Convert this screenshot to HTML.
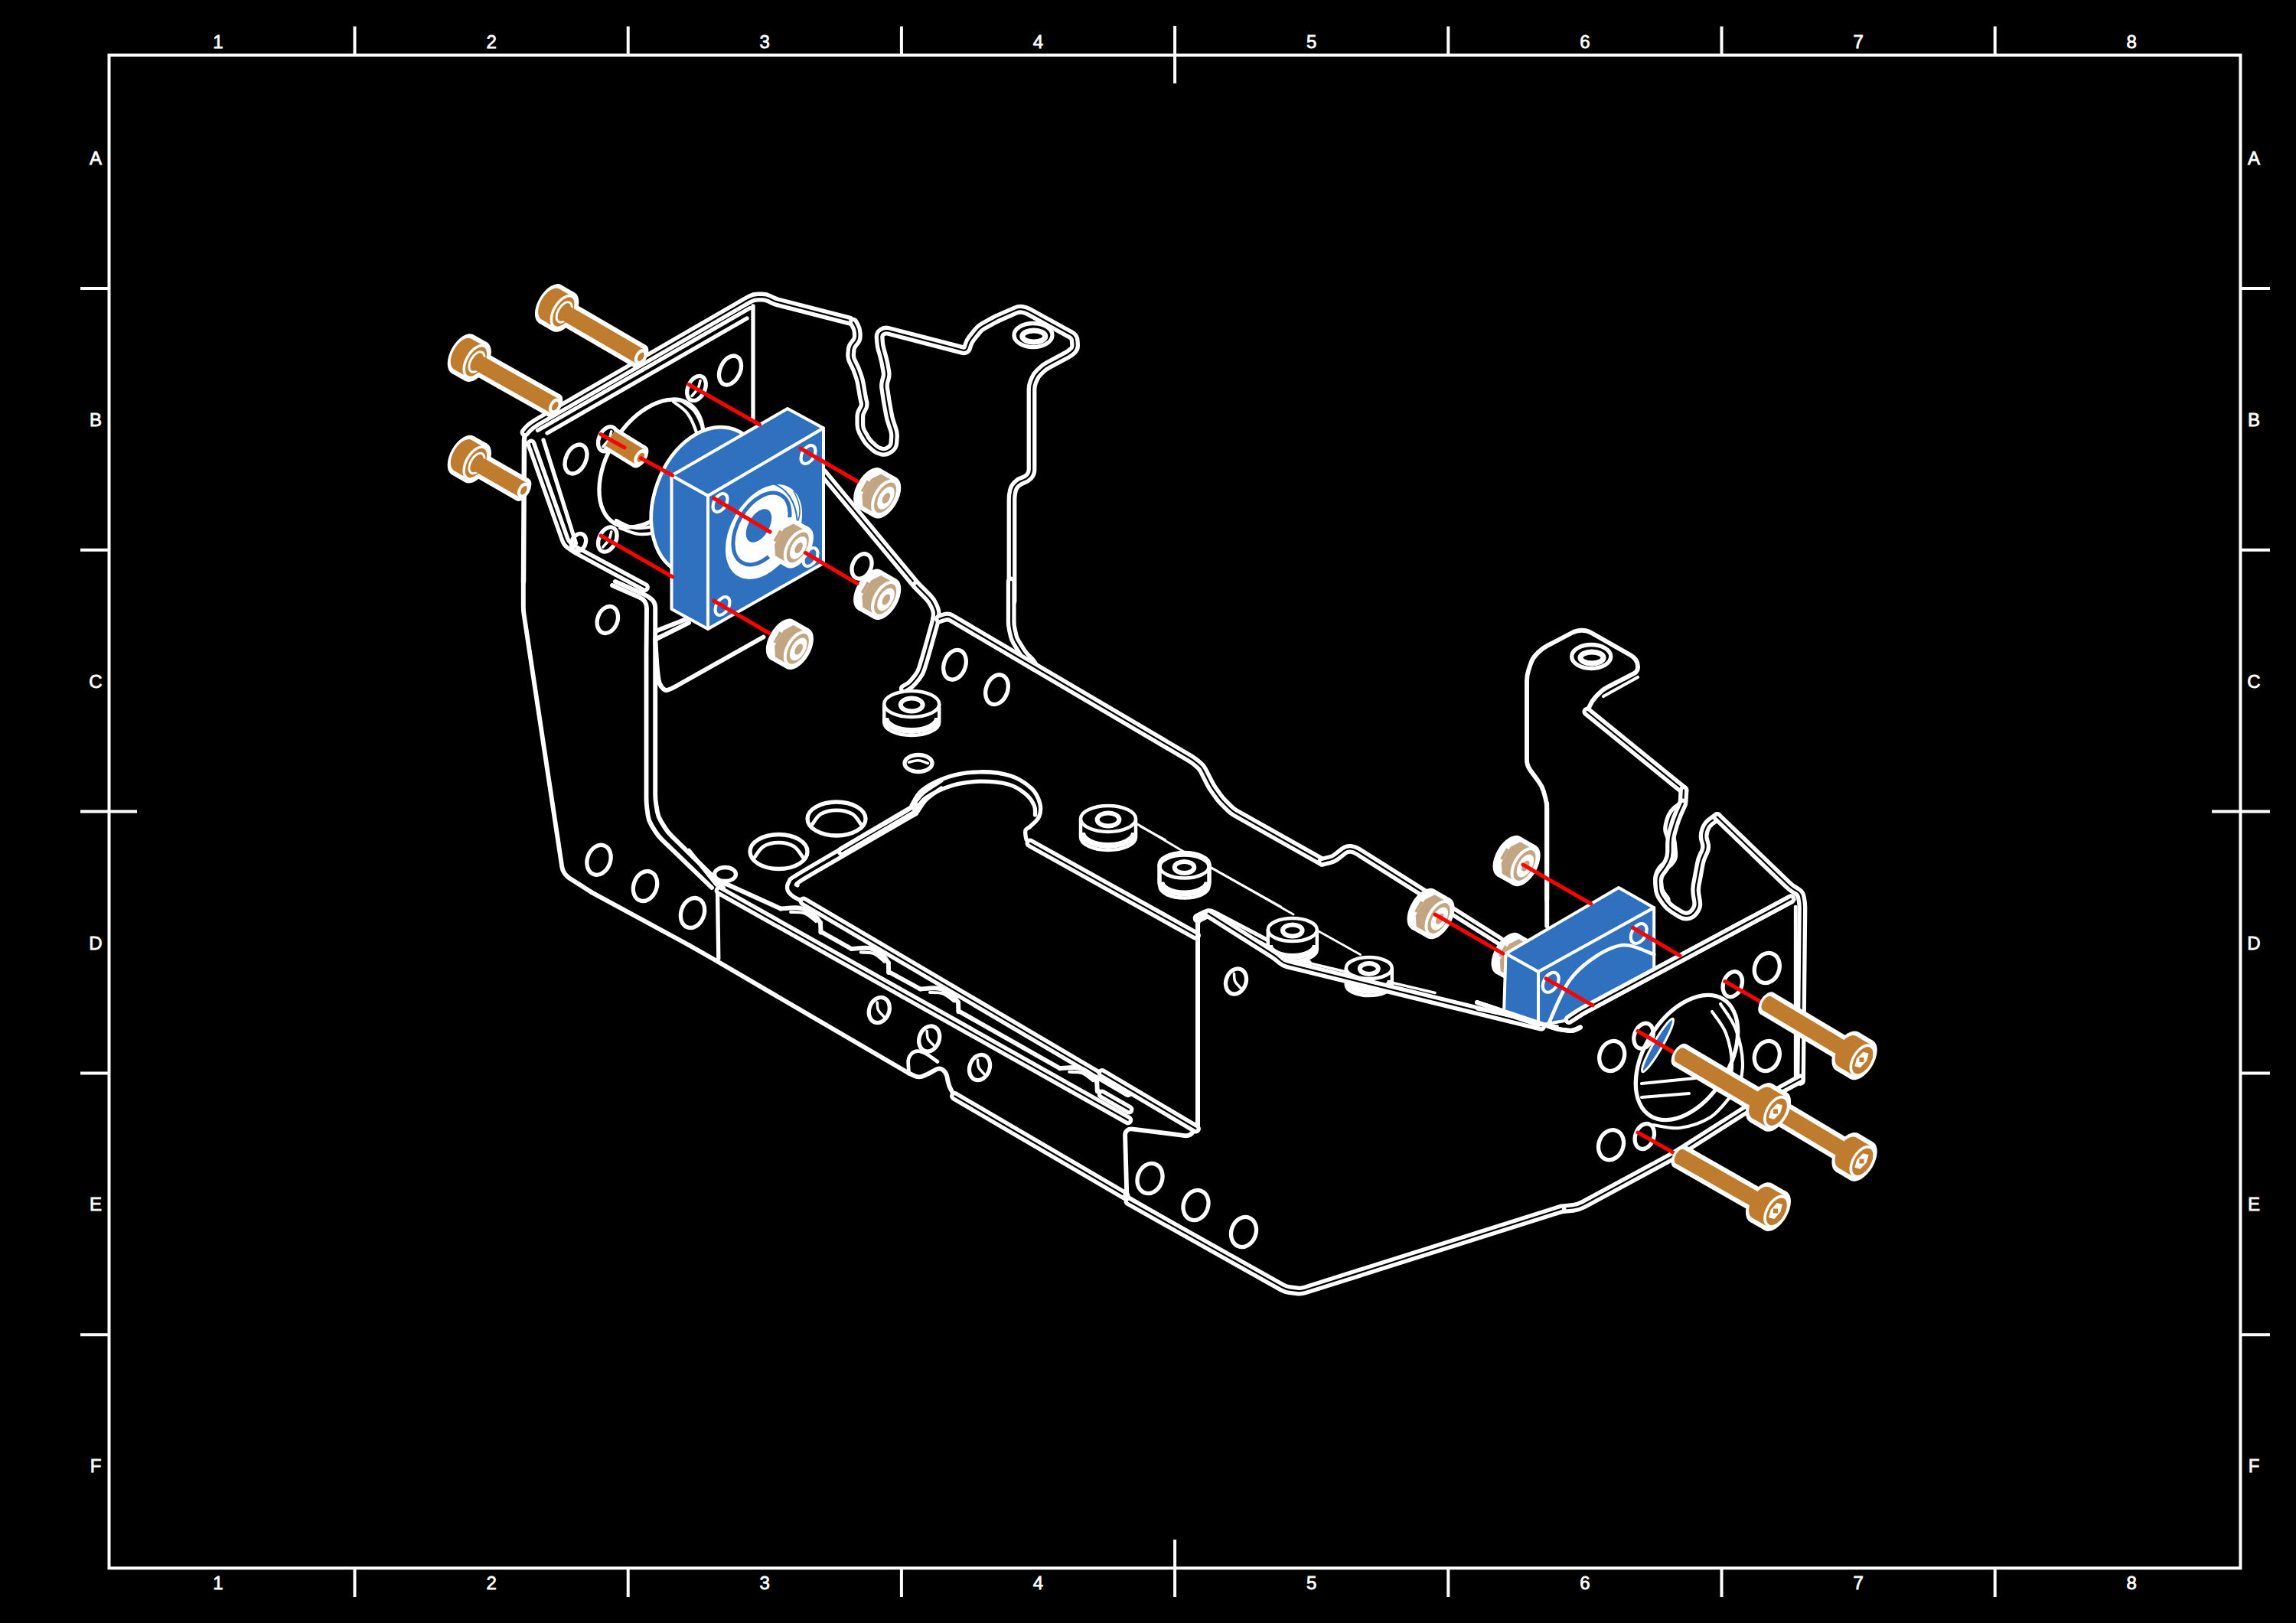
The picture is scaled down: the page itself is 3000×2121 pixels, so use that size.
<!DOCTYPE html>
<html><head><meta charset="utf-8"><style>
html,body{margin:0;padding:0;background:#000;width:3000px;height:2121px;overflow:hidden}
svg{display:block}
</style></head><body>
<svg width="3000" height="2121" viewBox="0 0 3000 2121" xmlns="http://www.w3.org/2000/svg">
<rect width="3000" height="2121" fill="#000"/>
<g stroke="#fff" stroke-width="4"><rect x="142.5" y="72" width="2784.9" height="1977.3000000000002" fill="none" stroke="#fff" stroke-width="4"/><line x1="463.5" y1="34.5" x2="463.5" y2="72" /><line x1="463.5" y1="2049.3" x2="463.5" y2="2087" /><line x1="820.6999999999999" y1="34.5" x2="820.6999999999999" y2="72" /><line x1="820.6999999999999" y1="2049.3" x2="820.6999999999999" y2="2087" /><line x1="1177.8999999999999" y1="34.5" x2="1177.8999999999999" y2="72" /><line x1="1177.8999999999999" y1="2049.3" x2="1177.8999999999999" y2="2087" /><line x1="1535.1" y1="34" x2="1535.1" y2="109" /><line x1="1535.1" y1="2012" x2="1535.1" y2="2087" /><line x1="1892.3" y1="34.5" x2="1892.3" y2="72" /><line x1="1892.3" y1="2049.3" x2="1892.3" y2="2087" /><line x1="2249.5" y1="34.5" x2="2249.5" y2="72" /><line x1="2249.5" y1="2049.3" x2="2249.5" y2="2087" /><line x1="2606.7000000000003" y1="34.5" x2="2606.7000000000003" y2="72" /><line x1="2606.7000000000003" y1="2049.3" x2="2606.7000000000003" y2="2087" /><line x1="105" y1="377.0" x2="142.5" y2="377.0" /><line x1="2927.4" y1="377.0" x2="2966" y2="377.0" /><line x1="105" y1="718.8000000000001" x2="142.5" y2="718.8000000000001" /><line x1="2927.4" y1="718.8000000000001" x2="2966" y2="718.8000000000001" /><line x1="105" y1="1060.6000000000001" x2="179" y2="1060.6000000000001" /><line x1="2890" y1="1060.6000000000001" x2="2966" y2="1060.6000000000001" /><line x1="105" y1="1402.4" x2="142.5" y2="1402.4" /><line x1="2927.4" y1="1402.4" x2="2966" y2="1402.4" /><line x1="105" y1="1744.2" x2="142.5" y2="1744.2" /><line x1="2927.4" y1="1744.2" x2="2966" y2="1744.2" /></g><g fill="#fff" stroke="#fff" stroke-width="0.8" font-family="Liberation Sans, sans-serif" font-size="24" text-anchor="middle"><text x="284.9" y="63">1</text><text x="284.9" y="2077">1</text><text x="642.1" y="63">2</text><text x="642.1" y="2077">2</text><text x="999.3" y="63">3</text><text x="999.3" y="2077">3</text><text x="1356.5" y="63">4</text><text x="1356.5" y="2077">4</text><text x="1713.7" y="63">5</text><text x="1713.7" y="2077">5</text><text x="2070.9" y="63">6</text><text x="2070.9" y="2077">6</text><text x="2428.1" y="63">7</text><text x="2428.1" y="2077">7</text><text x="2785.3" y="63">8</text><text x="2785.3" y="2077">8</text><text x="125" y="215.1">A</text><text x="2945" y="215.1">A</text><text x="125" y="556.9">B</text><text x="2945" y="556.9">B</text><text x="125" y="898.7">C</text><text x="2945" y="898.7">C</text><text x="125" y="1240.5">D</text><text x="2945" y="1240.5">D</text><text x="125" y="1582.3">E</text><text x="2945" y="1582.3">E</text><text x="125" y="1924.1">F</text><text x="2945" y="1924.1">F</text></g>





















<!--DRAWING-->
<style>.b,.k,.w{fill:none;stroke-linejoin:round;stroke-linecap:round}.b,.w{stroke:#fff}.k{stroke:#000}</style>
<path class="w" d="M684.0,760.0 L685.0,574.9 Q685.0,570.0 687.0,565.5 L689.0,561.0" stroke-width="6.49"/>
<path class="b" d="M686.0,565.0 L688.5,562.0 Q691.0,559.0 694.2,556.7 L695.9,555.4 Q700.0,552.5 704.3,550.0 L969.7,396.5 Q974.0,394.0 978.4,391.6 L980.6,390.4 Q985.0,388.0 990.0,388.0 L996.0,388.0 Q1001.0,388.0 1005.4,390.3 L1008.1,391.7 Q1012.5,394.0 1017.3,395.2 L1110.0,419.0" stroke-width="12.80"/>
<path class="k" d="M686.0,565.0 L688.5,562.0 Q691.0,559.0 694.2,556.7 L695.9,555.4 Q700.0,552.5 704.3,550.0 L969.7,396.5 Q974.0,394.0 978.4,391.6 L980.6,390.4 Q985.0,388.0 990.0,388.0 L996.0,388.0 Q1001.0,388.0 1005.4,390.3 L1008.1,391.7 Q1012.5,394.0 1017.3,395.2 L1110.0,419.0" stroke-width="2.25"/>
<path class="w" d="M984.0,400.0 L984.0,547.5" stroke-width="5.31"/>
<path class="w" d="M702.5,562.5 L980.0,402.5" stroke-width="5.31"/>
<path class="w" d="M715.0,566.0 L976.0,416.0" stroke-width="5.31"/>
<path class="b" d="M694.0,580.0 L738.3,705.3 Q740.0,710.0 744.0,713.0 L746.0,714.5 Q750.0,717.5 754.4,719.9 L842.5,767.5" stroke-width="12.80"/>
<path class="k" d="M694.0,580.0 L738.3,705.3 Q740.0,710.0 744.0,713.0 L746.0,714.5 Q750.0,717.5 754.4,719.9 L842.5,767.5" stroke-width="2.25"/>
<path class="w" d="M710.0,575.0 L752.5,710.0" stroke-width="5.31"/>
<path class="b" d="M1075.0,617.5 L1197.5,765.0" stroke-width="12.80"/>
<path class="k" d="M1075.0,617.5 L1197.5,765.0" stroke-width="2.25"/>
<ellipse cx="752.5" cy="600.0" rx="13" ry="20" transform="rotate(25 752.5 600.0)" fill="none" stroke="#fff" stroke-width="5.31"/>
<ellipse cx="954.0" cy="484.0" rx="13" ry="20" transform="rotate(25 954.0 484.0)" fill="none" stroke="#fff" stroke-width="5.31"/>
<ellipse cx="851.0" cy="605.5" rx="56" ry="92" transform="rotate(32 851.0 605.5)" fill="none" stroke="#fff" stroke-width="5.31"/>
<path class="w" d="M880.0,525.0 C883.0,527.5 893.0,533.3 898.0,540.0 C903.0,546.7 907.2,556.7 910.0,565.0 C912.8,573.3 914.2,585.8 915.0,590.0" stroke-width="4.13"/>
<path class="w" d="M888.0,522.0 C891.3,524.7 902.7,530.8 908.0,538.0 C913.3,545.2 917.2,555.5 920.0,565.0 C922.8,574.5 924.2,590.0 925.0,595.0" stroke-width="4.13"/>
<path class="w" d="M805.0,680.0 C809.2,681.7 820.8,689.0 830.0,690.0 C839.2,691.0 851.7,688.3 860.0,686.0 C868.3,683.7 876.7,677.7 880.0,676.0" stroke-width="4.13"/>
<path class="w" d="M810.0,690.0 C814.2,691.3 825.8,697.3 835.0,698.0 C844.2,698.7 856.7,696.3 865.0,694.0 C873.3,691.7 881.7,685.7 885.0,684.0" stroke-width="4.13"/>
<ellipse cx="910.0" cy="507.5" rx="11" ry="17" transform="rotate(25 910.0 507.5)" fill="none" stroke="#fff" stroke-width="5.31"/>
<path class="w" d="M915.0,497.5 C914.5,499.2 913.8,504.2 912.0,507.5 C910.2,510.8 905.3,515.8 904.0,517.5" stroke-width="3.54"/>
<ellipse cx="793.8" cy="573.8" rx="11" ry="17" transform="rotate(25 793.8 573.8)" fill="none" stroke="#fff" stroke-width="5.31"/>
<path class="w" d="M798.8,563.8 C798.2,565.4 797.6,570.4 795.8,573.8 C793.9,577.1 789.1,582.1 787.8,583.8" stroke-width="3.54"/>
<ellipse cx="793.8" cy="705.0" rx="11" ry="17" transform="rotate(25 793.8 705.0)" fill="none" stroke="#fff" stroke-width="5.31"/>
<path class="w" d="M798.8,695.0 C798.2,696.7 797.6,701.7 795.8,705.0 C793.9,708.3 789.1,713.3 787.8,715.0" stroke-width="3.54"/>
<ellipse cx="756.0" cy="709.0" rx="9" ry="12" transform="rotate(25 756.0 709.0)" fill="none" stroke="#fff" stroke-width="5.31"/>
<ellipse cx="925.0" cy="655.0" rx="70" ry="100" transform="rotate(20 925.0 655.0)" fill="#2F70BF" stroke="#fff" stroke-width="4.72"/>
<polygon points="877.5,621.5 1029.0,534.0 1076.0,559.5 925.0,648.0" fill="#2F70BF" stroke="#fff" stroke-width="4" stroke-linejoin="round"/>
<polygon points="877.5,621.5 925.0,648.0 925.0,822.0 877.5,796.0" fill="#2F70BF" stroke="#fff" stroke-width="4" stroke-linejoin="round"/>
<polygon points="925.0,648.0 1076.0,559.5 1076.0,736.0 925.0,822.0" fill="#2F70BF" stroke="#fff" stroke-width="4" stroke-linejoin="round"/>
<ellipse cx="941.0" cy="657.0" rx="8" ry="13" transform="rotate(30 941.0 657.0)" fill="#2F70BF" stroke="#fff" stroke-width="4.13"/>
<ellipse cx="1056.0" cy="594.0" rx="8" ry="13" transform="rotate(30 1056.0 594.0)" fill="#2F70BF" stroke="#fff" stroke-width="4.13"/>
<ellipse cx="944.0" cy="792.0" rx="8" ry="13" transform="rotate(30 944.0 792.0)" fill="#2F70BF" stroke="#fff" stroke-width="4.13"/>
<ellipse cx="1059.0" cy="728.0" rx="8" ry="13" transform="rotate(30 1059.0 728.0)" fill="#2F70BF" stroke="#fff" stroke-width="4.13"/>
<ellipse cx="998" cy="695" rx="43" ry="67" transform="rotate(30 998 695)" fill="#fff"/>
<ellipse cx="995" cy="691" rx="31" ry="51" transform="rotate(30 995 691)" fill="none" stroke="#2F70BF" stroke-width="5"/>
<path d="M1010,632 Q1045,645 1042,700" fill="none" stroke="#2F70BF" stroke-width="2"/>
<path d="M1037,642 Q1050,665 1042,682" fill="none" stroke="#2F70BF" stroke-width="1.5"/>
<ellipse cx="991.5" cy="687" rx="13.5" ry="24" transform="rotate(30 991.5 687)" fill="#2F70BF"/>
<g transform="translate(797.0,573.0) rotate(31.61)"><rect x="0" y="-16.2" width="45.79301256742124" height="32.4" fill="#fff"/><ellipse cx="45.79301256742124" cy="0" rx="8.91" ry="16.2" fill="#fff"/><rect x="0" y="-11.2" width="45.79301256742124" height="22.4" fill="#C07C2E"/><ellipse cx="45.79301256742124" cy="0" rx="6.16" ry="11.2" fill="#fff"/><ellipse cx="47.29301256742124" cy="0" rx="3.6959999999999997" ry="6.72" fill="#C07C2E"/></g>
<ellipse cx="1126.0" cy="740.0" rx="12" ry="17" transform="rotate(25 1126.0 740.0)" fill="none" stroke="#fff" stroke-width="5.31"/>
<g transform="translate(1042.3,715.3) rotate(29.7)"><rect x="-24" y="-30" width="24" height="60" fill="#fff"/><ellipse cx="-24" cy="0" rx="16.5" ry="30" fill="#fff"/><ellipse cx="0" cy="0" rx="16.5" ry="30" fill="#fff"/><path d="M-28,-12 L-20,-24 L-6,-24 L-6,24 L-20,24 L-28,12 Z" fill="#C2A582"/><rect x="-32" y="-8" width="4" height="16" fill="#C2A582"/><ellipse cx="0" cy="0" rx="13.200000000000001" ry="24" fill="#C2A582" stroke="#fff" stroke-width="4"/><ellipse cx="1" cy="0" rx="8.976" ry="16.32" fill="#fff"/><ellipse cx="1.5" cy="0" rx="4.224" ry="7.68" fill="#C2A582"/></g>
<g transform="translate(1156.6,650.3) rotate(29.7)"><rect x="-24" y="-30" width="24" height="60" fill="#fff"/><ellipse cx="-24" cy="0" rx="16.5" ry="30" fill="#fff"/><ellipse cx="0" cy="0" rx="16.5" ry="30" fill="#fff"/><path d="M-28,-12 L-20,-24 L-6,-24 L-6,24 L-20,24 L-28,12 Z" fill="#C2A582"/><rect x="-32" y="-8" width="4" height="16" fill="#C2A582"/><ellipse cx="0" cy="0" rx="13.200000000000001" ry="24" fill="#C2A582" stroke="#fff" stroke-width="4"/><ellipse cx="1" cy="0" rx="8.976" ry="16.32" fill="#fff"/><ellipse cx="1.5" cy="0" rx="4.224" ry="7.68" fill="#C2A582"/></g>
<g transform="translate(1156.6,782.8) rotate(29.7)"><rect x="-24" y="-30" width="24" height="60" fill="#fff"/><ellipse cx="-24" cy="0" rx="16.5" ry="30" fill="#fff"/><ellipse cx="0" cy="0" rx="16.5" ry="30" fill="#fff"/><path d="M-28,-12 L-20,-24 L-6,-24 L-6,24 L-20,24 L-28,12 Z" fill="#C2A582"/><rect x="-32" y="-8" width="4" height="16" fill="#C2A582"/><ellipse cx="0" cy="0" rx="13.200000000000001" ry="24" fill="#C2A582" stroke="#fff" stroke-width="4"/><ellipse cx="1" cy="0" rx="8.976" ry="16.32" fill="#fff"/><ellipse cx="1.5" cy="0" rx="4.224" ry="7.68" fill="#C2A582"/></g>
<g transform="translate(1042.3,847.8) rotate(29.7)"><rect x="-24" y="-30" width="24" height="60" fill="#fff"/><ellipse cx="-24" cy="0" rx="16.5" ry="30" fill="#fff"/><ellipse cx="0" cy="0" rx="16.5" ry="30" fill="#fff"/><path d="M-28,-12 L-20,-24 L-6,-24 L-6,24 L-20,24 L-28,12 Z" fill="#C2A582"/><rect x="-32" y="-8" width="4" height="16" fill="#C2A582"/><ellipse cx="0" cy="0" rx="13.200000000000001" ry="24" fill="#C2A582" stroke="#fff" stroke-width="4"/><ellipse cx="1" cy="0" rx="8.976" ry="16.32" fill="#fff"/><ellipse cx="1.5" cy="0" rx="4.224" ry="7.68" fill="#C2A582"/></g>
<line x1="900.0" y1="502.5" x2="992.5" y2="555.0" stroke="#FF0000" stroke-width="5" stroke-linecap="round"/>
<line x1="1046.0" y1="586.0" x2="1120.0" y2="629.0" stroke="#FF0000" stroke-width="5" stroke-linecap="round"/>
<line x1="932.5" y1="651.0" x2="1006.0" y2="695.0" stroke="#FF0000" stroke-width="5" stroke-linecap="round"/>
<line x1="1052.5" y1="722.5" x2="1120.0" y2="762.5" stroke="#FF0000" stroke-width="5" stroke-linecap="round"/>
<line x1="932.5" y1="785.0" x2="1005.0" y2="827.5" stroke="#FF0000" stroke-width="5" stroke-linecap="round"/>
<line x1="785.0" y1="567.5" x2="816.0" y2="585.0" stroke="#FF0000" stroke-width="5" stroke-linecap="round"/>
<line x1="837.5" y1="598.8" x2="878.8" y2="621.2" stroke="#FF0000" stroke-width="5" stroke-linecap="round"/>
<line x1="785.0" y1="700.0" x2="878.8" y2="753.8" stroke="#FF0000" stroke-width="5" stroke-linecap="round"/>
<g transform="translate(736.3,407.5) rotate(30.19)"><rect x="-20" y="-29" width="20" height="58" fill="#fff"/><ellipse cx="-20" cy="0" rx="15.950000000000001" ry="29" fill="#fff"/><ellipse cx="0" cy="0" rx="15.950000000000001" ry="29" fill="#fff"/><rect x="0" y="-16.5" width="115.34335698253285" height="33.0" fill="#fff"/><ellipse cx="115.34335698253285" cy="0" rx="9.075000000000001" ry="16.5" fill="#fff"/><rect x="-20" y="-23" width="20" height="46" fill="#C07C2E"/><ellipse cx="-20" cy="0" rx="12.65" ry="23" fill="#C07C2E"/><ellipse cx="0" cy="0" rx="12.65" ry="23" fill="#C07C2E" stroke="#fff" stroke-width="3.5"/><ellipse cx="1" cy="0" rx="7.9750000000000005" ry="14.5" fill="#C07C2E" stroke="#fff" stroke-width="3"/><rect x="2" y="-10.5" width="113.34335698253285" height="21.0" fill="#C07C2E"/><ellipse cx="115.34335698253285" cy="0" rx="5.775" ry="10.5" fill="#fff"/><ellipse cx="116.84335698253285" cy="0" rx="3.4650000000000003" ry="6.3" fill="#C07C2E"/></g>
<g transform="translate(622.0,472.5) rotate(29.41)"><rect x="-20" y="-29" width="20" height="58" fill="#fff"/><ellipse cx="-20" cy="0" rx="15.950000000000001" ry="29" fill="#fff"/><ellipse cx="0" cy="0" rx="15.950000000000001" ry="29" fill="#fff"/><rect x="0" y="-16.5" width="117.0907767503487" height="33.0" fill="#fff"/><ellipse cx="117.0907767503487" cy="0" rx="9.075000000000001" ry="16.5" fill="#fff"/><rect x="-20" y="-23" width="20" height="46" fill="#C07C2E"/><ellipse cx="-20" cy="0" rx="12.65" ry="23" fill="#C07C2E"/><ellipse cx="0" cy="0" rx="12.65" ry="23" fill="#C07C2E" stroke="#fff" stroke-width="3.5"/><ellipse cx="1" cy="0" rx="7.9750000000000005" ry="14.5" fill="#C07C2E" stroke="#fff" stroke-width="3"/><rect x="2" y="-10.5" width="115.0907767503487" height="21.0" fill="#C07C2E"/><ellipse cx="117.0907767503487" cy="0" rx="5.775" ry="10.5" fill="#fff"/><ellipse cx="118.5907767503487" cy="0" rx="3.4650000000000003" ry="6.3" fill="#C07C2E"/></g>
<g transform="translate(622.0,605.0) rotate(29.85)"><rect x="-20" y="-29" width="20" height="58" fill="#fff"/><ellipse cx="-20" cy="0" rx="15.950000000000001" ry="29" fill="#fff"/><ellipse cx="0" cy="0" rx="15.950000000000001" ry="29" fill="#fff"/><rect x="0" y="-16.5" width="70.32780389006896" height="33.0" fill="#fff"/><ellipse cx="70.32780389006896" cy="0" rx="9.075000000000001" ry="16.5" fill="#fff"/><rect x="-20" y="-23" width="20" height="46" fill="#C07C2E"/><ellipse cx="-20" cy="0" rx="12.65" ry="23" fill="#C07C2E"/><ellipse cx="0" cy="0" rx="12.65" ry="23" fill="#C07C2E" stroke="#fff" stroke-width="3.5"/><ellipse cx="1" cy="0" rx="7.9750000000000005" ry="14.5" fill="#C07C2E" stroke="#fff" stroke-width="3"/><rect x="2" y="-10.5" width="68.32780389006896" height="21.0" fill="#C07C2E"/><ellipse cx="70.32780389006896" cy="0" rx="5.775" ry="10.5" fill="#fff"/><ellipse cx="71.82780389006896" cy="0" rx="3.4650000000000003" ry="6.3" fill="#C07C2E"/></g>
<path class="b" d="M1115.0,421.2 L1117.5,425.7 Q1120.0,430.0 1120.2,435.0 L1120.3,438.8 Q1120.5,443.8 1117.1,447.4 L1115.9,448.8 Q1112.5,452.5 1112.1,457.5 L1111.7,462.5 Q1111.2,467.5 1113.5,472.0 L1116.5,478.0 Q1118.8,482.5 1120.3,487.2 L1122.2,492.8 Q1123.8,497.5 1124.6,502.4 L1126.7,515.1 Q1127.5,520.0 1128.7,524.9 L1128.8,525.1 Q1130.0,530.0 1127.4,534.2 L1126.4,535.8 Q1123.8,540.0 1123.8,545.0 L1123.8,555.0 Q1123.8,560.0 1126.2,564.3 L1131.3,573.2 Q1133.8,577.5 1137.5,580.8 L1142.5,585.4 Q1146.2,588.8 1151.1,589.8 L1152.6,590.2 Q1157.5,591.2 1161.5,588.2 L1163.5,586.8 Q1167.5,583.8 1167.9,578.8 L1168.4,571.2 Q1168.8,566.2 1167.2,561.5 L1164.1,552.2 Q1162.5,547.5 1161.6,542.6 L1159.7,532.4 Q1158.8,527.5 1158.0,522.6 L1155.7,507.4 Q1155.0,502.5 1156.4,497.7 L1157.3,494.8 Q1158.8,490.0 1157.8,485.1 L1155.9,474.9 Q1155.0,470.0 1153.6,465.2 L1151.4,457.3 Q1150.0,452.5 1149.6,447.5 L1149.1,440.7 Q1148.8,436.2 1152.5,433.8 L1152.5,433.8 Q1156.2,431.2 1160.6,432.4 L1257.7,457.5 Q1262.5,458.8 1263.9,454.0 L1264.8,451.0 Q1266.2,446.2 1269.3,442.3 L1276.9,432.7 Q1280.0,428.8 1284.4,426.3 L1298.1,418.7 Q1302.5,416.2 1307.1,414.3 L1327.2,405.5 Q1331.2,403.8 1335.6,404.4 L1335.6,404.4 Q1340.0,405.0 1343.9,407.1 L1399.4,437.6 Q1403.8,440.0 1404.2,445.0 L1404.6,450.6 Q1405.0,455.0 1401.9,458.1 L1401.9,458.1 Q1398.8,461.2 1394.9,463.4 L1369.4,477.1 Q1365.0,479.5 1361.3,482.9 L1357.4,486.6 Q1353.8,490.0 1351.8,494.6 L1349.9,499.1 Q1348.0,503.8 1348.0,508.8 L1348.0,613.8 Q1348.0,618.8 1344.7,622.5 L1344.3,622.9 Q1341.2,626.2 1336.9,627.5 L1336.9,627.5 Q1332.5,628.8 1329.2,631.9 L1328.1,632.8 Q1324.5,636.2 1323.4,641.1 L1323.1,642.6 Q1322.0,647.5 1322.0,652.5 L1322.0,785.8" stroke-width="12.80"/>
<path class="k" d="M1115.0,421.2 L1117.5,425.7 Q1120.0,430.0 1120.2,435.0 L1120.3,438.8 Q1120.5,443.8 1117.1,447.4 L1115.9,448.8 Q1112.5,452.5 1112.1,457.5 L1111.7,462.5 Q1111.2,467.5 1113.5,472.0 L1116.5,478.0 Q1118.8,482.5 1120.3,487.2 L1122.2,492.8 Q1123.8,497.5 1124.6,502.4 L1126.7,515.1 Q1127.5,520.0 1128.7,524.9 L1128.8,525.1 Q1130.0,530.0 1127.4,534.2 L1126.4,535.8 Q1123.8,540.0 1123.8,545.0 L1123.8,555.0 Q1123.8,560.0 1126.2,564.3 L1131.3,573.2 Q1133.8,577.5 1137.5,580.8 L1142.5,585.4 Q1146.2,588.8 1151.1,589.8 L1152.6,590.2 Q1157.5,591.2 1161.5,588.2 L1163.5,586.8 Q1167.5,583.8 1167.9,578.8 L1168.4,571.2 Q1168.8,566.2 1167.2,561.5 L1164.1,552.2 Q1162.5,547.5 1161.6,542.6 L1159.7,532.4 Q1158.8,527.5 1158.0,522.6 L1155.7,507.4 Q1155.0,502.5 1156.4,497.7 L1157.3,494.8 Q1158.8,490.0 1157.8,485.1 L1155.9,474.9 Q1155.0,470.0 1153.6,465.2 L1151.4,457.3 Q1150.0,452.5 1149.6,447.5 L1149.1,440.7 Q1148.8,436.2 1152.5,433.8 L1152.5,433.8 Q1156.2,431.2 1160.6,432.4 L1257.7,457.5 Q1262.5,458.8 1263.9,454.0 L1264.8,451.0 Q1266.2,446.2 1269.3,442.3 L1276.9,432.7 Q1280.0,428.8 1284.4,426.3 L1298.1,418.7 Q1302.5,416.2 1307.1,414.3 L1327.2,405.5 Q1331.2,403.8 1335.6,404.4 L1335.6,404.4 Q1340.0,405.0 1343.9,407.1 L1399.4,437.6 Q1403.8,440.0 1404.2,445.0 L1404.6,450.6 Q1405.0,455.0 1401.9,458.1 L1401.9,458.1 Q1398.8,461.2 1394.9,463.4 L1369.4,477.1 Q1365.0,479.5 1361.3,482.9 L1357.4,486.6 Q1353.8,490.0 1351.8,494.6 L1349.9,499.1 Q1348.0,503.8 1348.0,508.8 L1348.0,613.8 Q1348.0,618.8 1344.7,622.5 L1344.3,622.9 Q1341.2,626.2 1336.9,627.5 L1336.9,627.5 Q1332.5,628.8 1329.2,631.9 L1328.1,632.8 Q1324.5,636.2 1323.4,641.1 L1323.1,642.6 Q1322.0,647.5 1322.0,652.5 L1322.0,785.8" stroke-width="2.25"/>
<ellipse cx="1350.0" cy="438.0" rx="25" ry="15.5" transform="rotate(0 1350.0 438.0)" fill="none" stroke="#fff" stroke-width="5.31"/>
<ellipse cx="1350.8" cy="439.5" rx="15" ry="7.5" transform="rotate(0 1350.8 439.5)" fill="none" stroke="#fff" stroke-width="7.08"/>
<path class="b" d="M1197.5,765.0 L1212.6,780.1 Q1217.5,785.0 1220.2,791.5 L1221.8,795.3 Q1223.8,800.0 1223.1,805.0 L1223.1,805.0 Q1222.5,810.0 1221.2,814.9 L1211.9,848.3 Q1210.0,855.0 1208.0,861.7 L1204.5,873.3 Q1202.5,880.0 1198.0,885.4 L1193.2,891.1 Q1190.0,895.0 1185.6,897.5 L1181.2,900.0" stroke-width="12.80"/>
<path class="k" d="M1197.5,765.0 L1212.6,780.1 Q1217.5,785.0 1220.2,791.5 L1221.8,795.3 Q1223.8,800.0 1223.1,805.0 L1223.1,805.0 Q1222.5,810.0 1221.2,814.9 L1211.9,848.3 Q1210.0,855.0 1208.0,861.7 L1204.5,873.3 Q1202.5,880.0 1198.0,885.4 L1193.2,891.1 Q1190.0,895.0 1185.6,897.5 L1181.2,900.0" stroke-width="2.25"/>
<path class="b" d="M1321.2,760.0 L1321.2,812.5 Q1321.2,817.5 1322.3,822.4 L1324.0,830.1 Q1325.0,835.0 1327.6,839.2 L1334.9,850.8 Q1337.5,855.0 1341.0,858.5 L1344.9,862.4 Q1347.5,865.0 1349.4,868.1 L1351.2,871.2" stroke-width="12.80"/>
<path class="k" d="M1321.2,760.0 L1321.2,812.5 Q1321.2,817.5 1322.3,822.4 L1324.0,830.1 Q1325.0,835.0 1327.6,839.2 L1334.9,850.8 Q1337.5,855.0 1341.0,858.5 L1344.9,862.4 Q1347.5,865.0 1349.4,868.1 L1351.2,871.2" stroke-width="2.25"/>
<path class="b" d="M1227.5,808.8 L1234.0,806.6 Q1238.8,805.0 1243.1,807.5 L1553.2,990.0 Q1557.5,992.5 1561.4,995.6 L1566.1,999.4 Q1570.0,1002.5 1572.2,1007.0 L1580.3,1023.0 Q1582.5,1027.5 1585.4,1031.6 L1592.1,1040.9 Q1595.0,1045.0 1598.5,1048.5 L1606.5,1056.5 Q1610.0,1060.0 1614.4,1062.5 L1727.5,1126.2" stroke-width="12.80"/>
<path class="k" d="M1227.5,808.8 L1234.0,806.6 Q1238.8,805.0 1243.1,807.5 L1553.2,990.0 Q1557.5,992.5 1561.4,995.6 L1566.1,999.4 Q1570.0,1002.5 1572.2,1007.0 L1580.3,1023.0 Q1582.5,1027.5 1585.4,1031.6 L1592.1,1040.9 Q1595.0,1045.0 1598.5,1048.5 L1606.5,1056.5 Q1610.0,1060.0 1614.4,1062.5 L1727.5,1126.2" stroke-width="2.25"/>
<ellipse cx="1247.5" cy="868.8" rx="14" ry="20" transform="rotate(20 1247.5 868.8)" fill="none" stroke="#fff" stroke-width="5.31"/>
<ellipse cx="1302.5" cy="901.2" rx="14" ry="20" transform="rotate(20 1302.5 901.2)" fill="none" stroke="#fff" stroke-width="5.31"/>
<path d="M1155.2,920.0 L1155.2,944.0 A36,17 0 0 0 1227.2,944.0 L1227.2,920.0" fill="#000" stroke="#fff" stroke-width="4.5"/><path d="M1157.2,938.0 A34,17 0 0 0 1225.2,938.0" fill="none" stroke="#fff" stroke-width="8"/><ellipse cx="1191.2" cy="920.0" rx="36" ry="17" fill="#000" stroke="#fff" stroke-width="4.5"/><ellipse cx="1191.2" cy="921.0" rx="14.4" ry="8.5" fill="none" stroke="#fff" stroke-width="6"/>
<ellipse cx="1200.0" cy="997.5" rx="18" ry="11" transform="rotate(0 1200.0 997.5)" fill="none" stroke="#fff" stroke-width="5.31"/>
<path class="w" d="M1187.5,996.2 C1189.6,995.8 1195.8,993.5 1200.0,993.8 C1204.2,994.0 1210.4,996.9 1212.5,997.5" stroke-width="3.54"/>
<path class="w" d="M1191.2,1052.5 C1193.5,1049.2 1196.9,1038.8 1205.0,1032.5 C1213.1,1026.2 1227.5,1019.0 1240.0,1015.0 C1252.5,1011.0 1266.7,1009.0 1280.0,1008.8 C1293.3,1008.5 1308.8,1010.2 1320.0,1013.8 C1331.2,1017.3 1341.0,1024.0 1347.5,1030.0 C1354.0,1036.0 1357.1,1043.8 1358.8,1050.0 C1360.4,1056.2 1359.6,1062.5 1357.5,1067.5 C1355.4,1072.5 1349.2,1077.1 1346.2,1080.0 C1343.3,1082.9 1340.8,1082.1 1340.0,1085.0 C1339.2,1087.9 1340.2,1094.7 1341.2,1097.5 C1342.3,1100.3 1345.4,1101.2 1346.2,1102.0" stroke-width="5.31"/>
<path class="b" d="M1346.0,1102.0 L1562.5,1222.5" stroke-width="12.80"/>
<path class="k" d="M1346.0,1102.0 L1562.5,1222.5" stroke-width="2.25"/>
<path class="w" d="M1196.2,1060.0 C1198.5,1057.1 1201.9,1048.1 1210.0,1042.5 C1218.1,1036.9 1233.3,1029.8 1245.0,1026.2 C1256.7,1022.7 1267.9,1021.5 1280.0,1021.2 C1292.1,1021.0 1307.5,1022.3 1317.5,1025.0 C1327.5,1027.7 1334.4,1032.9 1340.0,1037.5 C1345.6,1042.1 1349.2,1047.9 1351.2,1052.5 C1353.3,1057.1 1352.3,1062.9 1352.5,1065.0" stroke-width="5.31"/>
<path class="b" d="M1100.0,1112.5 L1191.2,1058.8" stroke-width="12.80"/>
<path class="k" d="M1100.0,1112.5 L1191.2,1058.8" stroke-width="2.25"/>
<path d="M1412.0,1070.0 L1412.0,1094.0 A36,17 0 0 0 1484.0,1094.0 L1484.0,1070.0" fill="#000" stroke="#fff" stroke-width="4.5"/><path d="M1414.0,1088.0 A34,17 0 0 0 1482.0,1088.0" fill="none" stroke="#fff" stroke-width="8"/><ellipse cx="1448.0" cy="1070.0" rx="36" ry="17" fill="#000" stroke="#fff" stroke-width="4.5"/><ellipse cx="1448.0" cy="1071.0" rx="14.4" ry="8.5" fill="none" stroke="#fff" stroke-width="6"/>
<path d="M1514.5,1130.0 L1514.5,1154.0 A33,16 0 0 0 1580.5,1154.0 L1580.5,1130.0" fill="#000" stroke="#fff" stroke-width="4.5"/><path d="M1516.5,1148.0 A31,16 0 0 0 1578.5,1148.0" fill="none" stroke="#fff" stroke-width="8"/><ellipse cx="1547.5" cy="1130.0" rx="33" ry="16" fill="#000" stroke="#fff" stroke-width="4.5"/><ellipse cx="1547.5" cy="1131.0" rx="13.2" ry="8.0" fill="none" stroke="#fff" stroke-width="6"/>
<path class="w" d="M1485.0,1076.2 L1550.0,1115.0" stroke-width="2.95"/>
<path class="w" d="M1580.0,1132.5 L1673.8,1185.0" stroke-width="2.95"/>
<path class="w" d="M683.8,760.0 L683.8,792.5 Q683.8,797.5 684.5,802.4 L734.3,1133.0 Q735.0,1137.5 737.5,1141.2 L737.5,1141.2 Q740.0,1145.0 743.8,1147.4 L772.5,1165.8" stroke-width="5.90"/>
<path class="w" d="M803.8,760.0 L840.2,776.1 Q846.2,778.8 851.2,783.1 L851.2,783.1 Q856.2,787.5 856.2,794.1 L856.2,853.0 Q856.2,860.0 856.2,867.0 L856.2,1038.0 Q856.2,1045.0 857.4,1051.9 L858.8,1060.6 Q860.0,1067.5 863.7,1073.4 L868.8,1081.6 Q872.5,1087.5 877.5,1092.4 L930.0,1143.9 Q935.0,1148.8 939.7,1154.0 L945.0,1160.0" stroke-width="5.90"/>
<path class="w" d="M800.0,765.0 L835.9,780.7 Q840.0,782.5 842.5,786.2 L842.5,786.2 Q845.0,790.0 845.0,794.5 L844.5,853.0 Q844.5,860.0 844.5,867.0 L844.5,1043.0 Q844.5,1050.0 845.4,1056.9 L846.6,1065.6 Q847.5,1072.5 851.2,1078.4 L856.3,1086.6 Q860.0,1092.5 865.0,1097.4 L930.0,1160.0" stroke-width="5.90"/>
<path class="w" d="M857.5,824.5 L897.5,808.8" stroke-width="5.90"/>
<path class="w" d="M857.5,835.0 L900.0,813.8" stroke-width="5.90"/>
<path class="w" d="M856.2,835.0 L858.3,868.0 Q858.8,875.0 859.7,881.9 L860.5,887.8 Q861.2,893.8 865.0,898.4 L865.8,899.4 Q868.8,903.0 873.1,901.5 L873.1,901.5 Q877.5,900.0 881.5,897.7 L997.5,832.5" stroke-width="5.90"/>
<ellipse cx="793.8" cy="810.0" rx="13" ry="18" transform="rotate(20 793.8 810.0)" fill="none" stroke="#fff" stroke-width="5.31"/>
<ellipse cx="782.5" cy="1123.8" rx="15" ry="20" transform="rotate(20 782.5 1123.8)" fill="none" stroke="#fff" stroke-width="5.31"/>
<ellipse cx="947.5" cy="1142.5" rx="14" ry="9" transform="rotate(0 947.5 1142.5)" fill="none" stroke="#fff" stroke-width="5.31"/>
<ellipse cx="1093.0" cy="1070.0" rx="38" ry="22" transform="rotate(0 1093.0 1070.0)" fill="none" stroke="#fff" stroke-width="5.31"/>
<path class="w" d="M1061.2,1077.5 C1063.1,1075.2 1067.2,1066.9 1072.5,1063.8 C1077.8,1060.6 1086.1,1058.8 1093.0,1058.8 C1099.9,1058.8 1108.4,1060.6 1113.8,1063.8 C1119.1,1066.9 1123.1,1075.2 1125.0,1077.5" stroke-width="4.72"/>
<ellipse cx="1017.5" cy="1113.0" rx="37.5" ry="22.5" transform="rotate(0 1017.5 1113.0)" fill="none" stroke="#fff" stroke-width="5.31"/>
<path class="w" d="M986.2,1120.0 C988.1,1117.7 992.3,1109.4 997.5,1106.2 C1002.7,1103.1 1010.8,1101.2 1017.5,1101.2 C1024.2,1101.2 1032.3,1103.1 1037.5,1106.2 C1042.7,1109.4 1046.9,1117.7 1048.8,1120.0" stroke-width="4.72"/>
<path class="w" d="M1230.0,1020.0 C1226.2,1022.5 1213.1,1030.4 1207.5,1035.0 C1201.9,1039.6 1199.2,1044.0 1196.2,1047.5 C1193.3,1051.0 1202.7,1048.0 1190.0,1056.2 C1177.3,1064.5 1144.6,1082.6 1120.0,1097.0 C1095.4,1111.4 1057.3,1133.3 1042.5,1142.5 C1027.7,1151.7 1033.2,1148.6 1031.0,1152.0 C1028.8,1155.4 1028.0,1159.7 1029.0,1163.0 C1030.0,1166.3 1033.5,1169.5 1037.0,1172.0 C1040.5,1174.5 1047.8,1177.0 1050.0,1178.0" stroke-width="5.31"/>
<path class="w" d="M1230.0,1030.0 C1226.7,1032.5 1215.4,1039.6 1210.0,1045.0 C1204.6,1050.4 1200.8,1058.8 1197.5,1062.5 C1194.2,1066.2 1202.9,1059.9 1190.0,1067.5 C1177.1,1075.1 1143.7,1094.2 1120.0,1108.0 C1096.3,1121.8 1061.0,1141.8 1048.0,1150.0 C1035.0,1158.2 1043.0,1155.8 1042.0,1157.0" stroke-width="5.31"/>
<path class="w" d="M900.0,1111.2 L936.2,1156.2" stroke-width="5.31"/>
<path class="w" d="M937.5,1165.0 L938.8,1252.5" stroke-width="5.31"/>
<path class="w" d="M900.0,1235.0 L930.7,1252.5 Q935.0,1255.0 939.3,1257.5 L1187.5,1402.5" stroke-width="5.90"/>
<path class="w" d="M1187.5,1402.5 L1194.0,1405.7 Q1200.0,1408.8 1206.2,1406.2 L1206.2,1406.2 Q1212.5,1403.8 1218.3,1400.4 L1222.9,1397.7 Q1227.5,1395.0 1231.9,1398.1 L1231.9,1398.1 Q1236.2,1401.2 1237.3,1406.5 L1238.6,1413.1 Q1240.0,1420.0 1243.6,1426.0 L1247.5,1432.5" stroke-width="5.90"/>
<path class="b" d="M1247.5,1432.5 L1470.0,1562.5" stroke-width="12.80"/>
<path class="k" d="M1247.5,1432.5 L1470.0,1562.5" stroke-width="2.25"/>
<path class="w" d="M1187.5,1402.5 L1186.7,1389.1 Q1186.2,1382.5 1190.6,1377.5 L1190.8,1377.3 Q1195.0,1372.5 1201.2,1373.8 L1201.2,1373.8 Q1207.5,1375.0 1212.7,1378.7 L1225.0,1387.5" stroke-width="4.72"/>
<path class="b" d="M1050.0,1178.0 L1473.8,1427.5" stroke-width="12.80"/>
<path class="k" d="M1050.0,1178.0 L1473.8,1427.5" stroke-width="2.25"/>
<path class="w" d="M937.5,1150.0 L1020.0,1187.5" stroke-width="5.90"/>
<path class="w" d="M1020.0,1187.5 C1024.4,1187.4 1038.8,1185.2 1046.2,1186.8 C1053.7,1188.2 1060.3,1193.3 1064.6,1196.5 C1068.9,1199.7 1070.8,1204.5 1072.0,1206.1" stroke-width="5.90"/>
<path class="w" d="M1072.0,1205.5 L1072.5,1218.5" stroke-width="5.90"/>
<path class="w" d="M1033.1,1192.0 C1036.2,1192.2 1046.0,1191.5 1051.5,1193.5 C1057.0,1195.5 1063.8,1202.2 1066.2,1204.0" stroke-width="4.13"/>
<path class="w" d="M1112.5,1240.0 C1116.6,1239.9 1130.0,1237.8 1136.9,1239.2 C1143.8,1240.8 1150.0,1245.8 1153.9,1249.0 C1157.9,1252.2 1159.6,1257.0 1160.8,1258.6" stroke-width="5.90"/>
<path class="w" d="M1160.8,1258.0 L1161.2,1271.0" stroke-width="5.90"/>
<path class="w" d="M1124.7,1244.5 C1127.5,1244.8 1136.6,1244.0 1141.8,1246.0 C1146.9,1248.0 1153.1,1254.8 1155.4,1256.5" stroke-width="4.13"/>
<path class="w" d="M1202.5,1292.5 C1206.7,1292.4 1220.4,1290.3 1227.5,1291.8 C1234.6,1293.2 1240.9,1298.0 1245.0,1301.1 C1249.1,1304.2 1250.8,1308.8 1252.0,1310.3" stroke-width="5.90"/>
<path class="w" d="M1252.0,1309.8 L1252.5,1322.2" stroke-width="5.90"/>
<path class="w" d="M1215.0,1297.0 C1217.9,1297.2 1227.2,1296.6 1232.5,1298.5 C1237.8,1300.4 1244.2,1306.7 1246.5,1308.3" stroke-width="4.13"/>
<path class="w" d="M1385.0,1396.2 C1389.1,1396.1 1402.5,1394.1 1409.4,1395.5 C1416.3,1396.9 1422.5,1401.8 1426.4,1404.9 C1430.4,1408.0 1432.1,1412.5 1433.2,1414.1" stroke-width="5.90"/>
<path class="w" d="M1433.2,1413.5 L1433.8,1426.0" stroke-width="5.90"/>
<path class="w" d="M1397.2,1400.8 C1400.0,1401.0 1409.1,1400.4 1414.2,1402.2 C1419.4,1404.1 1425.6,1410.4 1427.9,1412.1" stroke-width="4.13"/>
<path class="w" d="M1072.5,1217.5 L1112.5,1240.0" stroke-width="5.90"/>
<path class="w" d="M1161.2,1270.0 L1202.5,1292.5" stroke-width="5.90"/>
<path class="w" d="M1252.5,1321.2 L1385.0,1396.2" stroke-width="5.90"/>
<path class="w" d="M1433.8,1425.0 L1473.8,1447.5" stroke-width="5.90"/>
<path class="b" d="M940.0,1163.8 L1473.8,1463.8" stroke-width="12.80"/>
<path class="k" d="M940.0,1163.8 L1473.8,1463.8" stroke-width="2.25"/>
<ellipse cx="1148.8" cy="1320.0" rx="13" ry="17" transform="rotate(20 1148.8 1320.0)" fill="none" stroke="#fff" stroke-width="5.31"/>
<path class="w" d="M1146.2,1310.0 C1146.5,1311.7 1146.0,1316.9 1147.5,1320.0 C1149.0,1323.1 1153.8,1327.3 1155.0,1328.8" stroke-width="3.54"/>
<ellipse cx="1214.2" cy="1357.5" rx="13" ry="17" transform="rotate(20 1214.2 1357.5)" fill="none" stroke="#fff" stroke-width="5.31"/>
<path class="w" d="M1211.2,1347.5 C1211.5,1349.2 1211.0,1354.4 1212.5,1357.5 C1214.0,1360.6 1218.8,1364.8 1220.0,1366.2" stroke-width="3.54"/>
<ellipse cx="1280.0" cy="1395.0" rx="13" ry="17" transform="rotate(20 1280.0 1395.0)" fill="none" stroke="#fff" stroke-width="5.31"/>
<path class="w" d="M1277.5,1385.0 C1277.7,1386.7 1277.3,1391.9 1278.8,1395.0 C1280.2,1398.1 1285.0,1402.3 1286.2,1403.8" stroke-width="3.54"/>
<path class="w" d="M1470.0,1562.5 L1680.0,1685.0" stroke-width="5.90"/>
<path class="b" d="M1565.0,1200.0 L1575.5,1194.7 Q1580.0,1192.5 1584.4,1194.8 L1708.0,1260.0" stroke-width="12.80"/>
<path class="k" d="M1565.0,1200.0 L1575.5,1194.7 Q1580.0,1192.5 1584.4,1194.8 L1708.0,1260.0" stroke-width="2.25"/>
<path class="w" d="M1565.0,1200.0 L1565.0,1463.0 Q1565.0,1470.0 1561.1,1475.8 L1558.9,1479.2 Q1555.0,1485.0 1548.1,1484.1 L1478.5,1475.4 Q1475.0,1475.0 1472.5,1477.5 L1472.5,1477.5 Q1470.0,1480.0 1470.1,1483.5 L1472.5,1570.0" stroke-width="5.90"/>
<ellipse cx="1502.5" cy="1540.0" rx="16" ry="20" transform="rotate(20 1502.5 1540.0)" fill="none" stroke="#fff" stroke-width="5.31"/>
<ellipse cx="1562.5" cy="1575.0" rx="16" ry="20" transform="rotate(20 1562.5 1575.0)" fill="none" stroke="#fff" stroke-width="5.31"/>
<ellipse cx="1625.0" cy="1610.0" rx="16" ry="20" transform="rotate(20 1625.0 1610.0)" fill="none" stroke="#fff" stroke-width="5.31"/>
<path class="b" d="M1727.5,1126.2 L1737.6,1123.7 Q1742.5,1122.5 1746.4,1119.4 L1756.1,1111.8 Q1760.0,1108.8 1765.0,1109.4 L1765.0,1109.4 Q1770.0,1110.0 1774.2,1112.7 L1960.0,1230.0" stroke-width="12.80"/>
<path class="k" d="M1727.5,1126.2 L1737.6,1123.7 Q1742.5,1122.5 1746.4,1119.4 L1756.1,1111.8 Q1760.0,1108.8 1765.0,1109.4 L1765.0,1109.4 Q1770.0,1110.0 1774.2,1112.7 L1960.0,1230.0" stroke-width="2.25"/>
<path class="w" d="M1490.0,1080.0 L1522.5,1097.5" stroke-width="2.95"/>
<path class="w" d="M1580.0,1132.5 L1690.0,1195.0" stroke-width="2.95"/>
<path class="w" d="M1715.0,1212.5 L1777.5,1247.5" stroke-width="2.95"/>
<path class="w" d="M1685.0,1252.5 L1875.0,1297.5" stroke-width="3.54"/>
<path d="M1515.5,1132.5 L1515.5,1158.5 A32,15 0 0 0 1579.5,1158.5 L1579.5,1132.5" fill="#000" stroke="#fff" stroke-width="4.5"/><path d="M1517.5,1152.5 A30,15 0 0 0 1577.5,1152.5" fill="none" stroke="#fff" stroke-width="8"/><ellipse cx="1547.5" cy="1132.5" rx="32" ry="15" fill="#000" stroke="#fff" stroke-width="4.5"/><ellipse cx="1547.5" cy="1133.5" rx="12.8" ry="7.5" fill="none" stroke="#fff" stroke-width="6"/>
<path d="M1656.8,1215.0 L1656.8,1241.0 A32,15 0 0 0 1720.8,1241.0 L1720.8,1215.0" fill="#000" stroke="#fff" stroke-width="4.5"/><path d="M1658.8,1235.0 A30,15 0 0 0 1718.8,1235.0" fill="none" stroke="#fff" stroke-width="8"/><ellipse cx="1688.8" cy="1215.0" rx="32" ry="15" fill="#000" stroke="#fff" stroke-width="4.5"/><ellipse cx="1688.8" cy="1216.0" rx="12.8" ry="7.5" fill="none" stroke="#fff" stroke-width="6"/>
<path d="M1758.8,1265.0 L1758.8,1287.0 A30,14 0 0 0 1818.8,1287.0 L1818.8,1265.0" fill="#000" stroke="#fff" stroke-width="4.5"/><path d="M1760.8,1281.0 A28,14 0 0 0 1816.8,1281.0" fill="none" stroke="#fff" stroke-width="8"/><ellipse cx="1788.8" cy="1265.0" rx="30" ry="14" fill="#000" stroke="#fff" stroke-width="4.5"/><ellipse cx="1788.8" cy="1266.0" rx="12.0" ry="7.0" fill="none" stroke="#fff" stroke-width="6"/>
<path class="w" d="M1565.0,1475.0 L1565.0,1207.5 Q1565.0,1202.5 1569.2,1199.8 L1578.8,1193.8" stroke-width="5.90"/>
<path class="b" d="M1578.8,1193.8 L1663.3,1247.3 Q1667.5,1250.0 1671.3,1253.3 L1673.7,1255.5 Q1677.5,1258.8 1682.4,1259.9 L2013.8,1341.2" stroke-width="12.80"/>
<path class="k" d="M1578.8,1193.8 L1663.3,1247.3 Q1667.5,1250.0 1671.3,1253.3 L1673.7,1255.5 Q1677.5,1258.8 1682.4,1259.9 L2013.8,1341.2" stroke-width="2.25"/>
<ellipse cx="1615.0" cy="1282.5" rx="13" ry="17" transform="rotate(20 1615.0 1282.5)" fill="none" stroke="#fff" stroke-width="5.31"/>
<path class="w" d="M1612.5,1272.5 C1612.7,1274.2 1612.3,1279.4 1613.8,1282.5 C1615.2,1285.6 1620.0,1289.8 1621.2,1291.2" stroke-width="3.54"/>
<path class="b" d="M1440.0,1402.5 L1562.5,1475.0" stroke-width="12.80"/>
<path class="k" d="M1440.0,1402.5 L1562.5,1475.0" stroke-width="2.25"/>
<path class="b" d="M1440.0,1430.0 L1475.0,1450.0" stroke-width="12.80"/>
<path class="k" d="M1440.0,1430.0 L1475.0,1450.0" stroke-width="2.25"/>
<path class="w" d="M2021.2,1175.8 L2021.2,1057.0 Q2021.2,1050.0 2019.4,1043.3 L2016.9,1034.2 Q2015.0,1027.5 2010.8,1021.9 L2008.0,1018.1 Q2003.8,1012.5 1999.7,1006.8 L1999.0,1005.7 Q1995.0,1000.0 1995.0,993.0 L1995.0,889.5 Q1995.0,882.5 1997.2,875.9 L2000.3,866.6 Q2002.5,860.0 2007.4,855.1 L2010.1,852.4 Q2015.0,847.5 2021.2,844.2 L2053.9,827.0 Q2060.0,823.8 2066.9,823.8 L2066.9,823.8 Q2073.8,823.8 2079.7,827.2 L2131.1,856.5 Q2135.0,858.8 2137.5,862.5 L2137.5,862.5 Q2140.0,866.2 2140.0,870.8 L2140.0,871.9 Q2140.0,877.5 2135.0,880.1 L2100.0,898.1 Q2093.8,901.2 2089.0,906.4 L2084.7,911.1 Q2080.0,916.2 2077.1,922.6 L2073.8,930.0" stroke-width="5.90"/>
<path class="w" d="M2095.0,910.0 L2140.0,885.0" stroke-width="4.13"/>
<path class="b" d="M2073.8,930.0 L2190.6,1025.0 Q2193.8,1027.5 2196.9,1030.0 L2200.0,1032.5" stroke-width="12.80"/>
<path class="k" d="M2073.8,930.0 L2190.6,1025.0 Q2193.8,1027.5 2196.9,1030.0 L2200.0,1032.5" stroke-width="2.25"/>
<path class="b" d="M2200.0,1032.5 L2199.1,1047.5 Q2198.8,1052.5 2194.4,1055.0 L2194.4,1055.0 Q2190.0,1057.5 2187.0,1061.5 L2186.2,1062.5 Q2182.5,1067.5 2181.2,1073.6 L2179.9,1079.5 Q2178.8,1085.0 2181.2,1090.0 L2181.2,1090.0 Q2183.8,1095.0 2184.3,1100.6 L2185.8,1115.5 Q2186.2,1120.0 2183.8,1123.8 L2183.8,1123.8 Q2181.2,1127.5 2177.6,1130.2 L2175.7,1131.6 Q2171.2,1135.0 2168.8,1140.0 L2168.8,1140.0 Q2166.2,1145.0 2166.6,1150.6 L2167.1,1158.1 Q2167.5,1165.0 2171.9,1170.4 L2176.2,1175.8" stroke-width="12.80"/>
<path class="k" d="M2200.0,1032.5 L2199.1,1047.5 Q2198.8,1052.5 2194.4,1055.0 L2194.4,1055.0 Q2190.0,1057.5 2187.0,1061.5 L2186.2,1062.5 Q2182.5,1067.5 2181.2,1073.6 L2179.9,1079.5 Q2178.8,1085.0 2181.2,1090.0 L2181.2,1090.0 Q2183.8,1095.0 2184.3,1100.6 L2185.8,1115.5 Q2186.2,1120.0 2183.8,1123.8 L2183.8,1123.8 Q2181.2,1127.5 2177.6,1130.2 L2175.7,1131.6 Q2171.2,1135.0 2168.8,1140.0 L2168.8,1140.0 Q2166.2,1145.0 2166.6,1150.6 L2167.1,1158.1 Q2167.5,1165.0 2171.9,1170.4 L2176.2,1175.8" stroke-width="2.25"/>
<ellipse cx="2079.2" cy="858.0" rx="25.5" ry="15.5" transform="rotate(0 2079.2 858.0)" fill="none" stroke="#fff" stroke-width="5.31"/>
<ellipse cx="2080.0" cy="859.5" rx="15" ry="7.5" transform="rotate(0 2080.0 859.5)" fill="none" stroke="#fff" stroke-width="7.08"/>
<path class="b" d="M2198.8,1050.0 L2192.8,1063.6 Q2190.0,1070.0 2188.0,1076.7 L2184.5,1088.3 Q2182.5,1095.0 2182.5,1102.0 L2182.5,1113.0 Q2182.5,1120.0 2179.4,1126.2 L2179.4,1126.2 Q2176.2,1132.5 2171.9,1138.0 L2170.6,1139.5 Q2166.2,1145.0 2166.6,1152.0 L2167.1,1160.5 Q2167.5,1167.5 2171.6,1173.2 L2175.9,1179.3 Q2180.0,1185.0 2185.9,1188.7 L2195.7,1194.8 Q2200.0,1197.5 2205.0,1196.9 L2205.0,1196.9 Q2210.0,1196.2 2213.1,1192.3 L2214.5,1190.5 Q2218.8,1185.0 2217.6,1178.1 L2216.0,1168.8 Q2215.0,1162.5 2216.2,1156.2 L2216.2,1156.2 Q2217.5,1150.0 2218.6,1143.7 L2221.2,1129.4 Q2222.5,1122.5 2225.6,1116.2 L2226.9,1113.8 Q2230.0,1107.5 2227.8,1100.9 L2227.2,1099.1 Q2225.0,1092.5 2227.2,1085.9 L2227.8,1084.1 Q2230.0,1077.5 2235.7,1073.4 L2243.8,1067.5" stroke-width="12.80"/>
<path class="k" d="M2198.8,1050.0 L2192.8,1063.6 Q2190.0,1070.0 2188.0,1076.7 L2184.5,1088.3 Q2182.5,1095.0 2182.5,1102.0 L2182.5,1113.0 Q2182.5,1120.0 2179.4,1126.2 L2179.4,1126.2 Q2176.2,1132.5 2171.9,1138.0 L2170.6,1139.5 Q2166.2,1145.0 2166.6,1152.0 L2167.1,1160.5 Q2167.5,1167.5 2171.6,1173.2 L2175.9,1179.3 Q2180.0,1185.0 2185.9,1188.7 L2195.7,1194.8 Q2200.0,1197.5 2205.0,1196.9 L2205.0,1196.9 Q2210.0,1196.2 2213.1,1192.3 L2214.5,1190.5 Q2218.8,1185.0 2217.6,1178.1 L2216.0,1168.8 Q2215.0,1162.5 2216.2,1156.2 L2216.2,1156.2 Q2217.5,1150.0 2218.6,1143.7 L2221.2,1129.4 Q2222.5,1122.5 2225.6,1116.2 L2226.9,1113.8 Q2230.0,1107.5 2227.8,1100.9 L2227.2,1099.1 Q2225.0,1092.5 2227.2,1085.9 L2227.8,1084.1 Q2230.0,1077.5 2235.7,1073.4 L2243.8,1067.5" stroke-width="2.25"/>
<path class="b" d="M2243.8,1067.5 L2336.4,1156.5 Q2340.0,1160.0 2344.3,1162.6 L2348.2,1164.9 Q2352.5,1167.5 2353.3,1172.4 L2354.2,1177.6 Q2355.0,1182.5 2354.9,1187.5 L2352.5,1412.5" stroke-width="12.80"/>
<path class="k" d="M2243.8,1067.5 L2336.4,1156.5 Q2340.0,1160.0 2344.3,1162.6 L2348.2,1164.9 Q2352.5,1167.5 2353.3,1172.4 L2354.2,1177.6 Q2355.0,1182.5 2354.9,1187.5 L2352.5,1412.5" stroke-width="2.25"/>
<path class="w" d="M2346.2,1185.0 L2346.2,1410.0" stroke-width="4.72"/>
<path class="b" d="M2050.0,1332.5 L2060.8,1325.3 Q2065.0,1322.5 2069.4,1320.1 L2340.0,1175.0" stroke-width="12.80"/>
<path class="k" d="M2050.0,1332.5 L2060.8,1325.3 Q2065.0,1322.5 2069.4,1320.1 L2340.0,1175.0" stroke-width="2.25"/>
<path class="w" d="M1930.0,1310.0 L2028.4,1342.8 Q2035.0,1345.0 2041.9,1345.9 L2049.5,1346.8 Q2055.0,1347.5 2060.0,1345.0 L2065.0,1342.5" stroke-width="5.90"/>
<path class="w" d="M1930.0,1318.8 L2035.0,1341.2" stroke-width="3.54"/>
<path class="w" d="M2021.2,1050.0 L2021.2,1210.0" stroke-width="5.90"/>
<ellipse cx="2308.8" cy="1265.0" rx="16" ry="20" transform="rotate(20 2308.8 1265.0)" fill="none" stroke="#fff" stroke-width="5.31"/>
<ellipse cx="2308.8" cy="1380.0" rx="16" ry="20" transform="rotate(20 2308.8 1380.0)" fill="none" stroke="#fff" stroke-width="5.31"/>
<ellipse cx="2106.2" cy="1380.0" rx="16" ry="20" transform="rotate(20 2106.2 1380.0)" fill="none" stroke="#fff" stroke-width="5.31"/>
<ellipse cx="2263.8" cy="1286.2" rx="12" ry="17" transform="rotate(20 2263.8 1286.2)" fill="none" stroke="#fff" stroke-width="5.31"/>
<ellipse cx="2147.5" cy="1353.8" rx="12" ry="17" transform="rotate(20 2147.5 1353.8)" fill="none" stroke="#fff" stroke-width="5.31"/>
<path class="b" d="M2352.5,1410.0 L2331.1,1421.6 Q2325.0,1425.0 2318.9,1428.5 L2283.6,1449.0 Q2277.5,1452.5 2271.6,1456.3 L2193.4,1506.2 Q2187.5,1510.0 2181.3,1513.3 L2068.7,1574.2 Q2062.5,1577.5 2055.5,1578.3 L2040.0,1580.0" stroke-width="12.80"/>
<path class="k" d="M2352.5,1410.0 L2331.1,1421.6 Q2325.0,1425.0 2318.9,1428.5 L2283.6,1449.0 Q2277.5,1452.5 2271.6,1456.3 L2193.4,1506.2 Q2187.5,1510.0 2181.3,1513.3 L2068.7,1574.2 Q2062.5,1577.5 2055.5,1578.3 L2040.0,1580.0" stroke-width="2.25"/>
<path class="b" d="M2040.0,1580.0 L1704.8,1686.0 Q1700.0,1687.5 1695.0,1686.9 L1685.0,1685.6 Q1680.0,1685.0 1675.6,1682.6 L1475.0,1570.0" stroke-width="12.80"/>
<path class="k" d="M2040.0,1580.0 L1704.8,1686.0 Q1700.0,1687.5 1695.0,1686.9 L1685.0,1685.6 Q1680.0,1685.0 1675.6,1682.6 L1475.0,1570.0" stroke-width="2.25"/>
<ellipse cx="2105.0" cy="1496.2" rx="16" ry="20" transform="rotate(20 2105.0 1496.2)" fill="none" stroke="#fff" stroke-width="5.31"/>
<ellipse cx="2148.8" cy="1485.0" rx="12" ry="17" transform="rotate(20 2148.8 1485.0)" fill="none" stroke="#fff" stroke-width="5.31"/>
<ellipse cx="843.0" cy="1158.0" rx="15" ry="20" transform="rotate(20 843.0 1158.0)" fill="none" stroke="#fff" stroke-width="5.31"/>
<ellipse cx="905.0" cy="1193.0" rx="15" ry="20" transform="rotate(20 905.0 1193.0)" fill="none" stroke="#fff" stroke-width="5.31"/>
<path class="w" d="M772.5,1165.8 L900.0,1235.0" stroke-width="5.90"/>
<ellipse cx="2204.0" cy="1382.0" rx="55" ry="90" transform="rotate(32 2204.0 1382.0)" fill="none" stroke="#fff" stroke-width="5.31"/>
<path class="w" d="M2237.0,1322.0 C2240.0,1326.7 2250.7,1338.7 2255.0,1350.0 C2259.3,1361.3 2262.5,1376.7 2263.0,1390.0 C2263.5,1403.3 2258.8,1423.3 2258.0,1430.0" stroke-width="4.13"/>
<path class="w" d="M2248.0,1312.0 C2251.3,1317.5 2263.2,1332.0 2268.0,1345.0 C2272.8,1358.0 2276.7,1375.0 2277.0,1390.0 C2277.3,1405.0 2271.2,1427.5 2270.0,1435.0" stroke-width="4.13"/>
<path class="w" d="M2160.0,1470.0 C2165.8,1470.7 2182.5,1475.7 2195.0,1474.0 C2207.5,1472.3 2223.8,1467.0 2235.0,1460.0 C2246.2,1453.0 2257.5,1436.7 2262.0,1432.0" stroke-width="4.13"/>
<ellipse cx="2166" cy="1366" rx="6" ry="40" transform="rotate(30 2166 1366)" fill="#2F70BF" stroke="#fff" stroke-width="3"/>
<path class="w" d="M2145.0,1416.0 L2215.0,1409.0" stroke-width="4.13"/>
<path class="w" d="M2145.0,1434.0 L2207.0,1429.0" stroke-width="4.13"/>
<g transform="translate(1990.0,1258.0) rotate(29.7)"><rect x="-24" y="-30" width="24" height="60" fill="#fff"/><ellipse cx="-24" cy="0" rx="16.5" ry="30" fill="#fff"/><ellipse cx="0" cy="0" rx="16.5" ry="30" fill="#fff"/><path d="M-28,-12 L-20,-24 L-6,-24 L-6,24 L-20,24 L-28,12 Z" fill="#C2A582"/><rect x="-32" y="-8" width="4" height="16" fill="#C2A582"/><ellipse cx="0" cy="0" rx="13.200000000000001" ry="24" fill="#C2A582" stroke="#fff" stroke-width="4"/><ellipse cx="1" cy="0" rx="8.976" ry="16.32" fill="#fff"/><ellipse cx="1.5" cy="0" rx="4.224" ry="7.68" fill="#C2A582"/></g>
<polygon points="1967.5,1246.2 2115.0,1160.0 2161.2,1186.2 2010.0,1270.0" fill="#2F70BF" stroke="#fff" stroke-width="4" stroke-linejoin="round"/>
<polygon points="1967.5,1246.2 2010.0,1270.0 2010.0,1340.0 1965.0,1325.0" fill="#2F70BF" stroke="#fff" stroke-width="4" stroke-linejoin="round"/>
<polygon points="2010.0,1270.0 2161.2,1186.2 2161.2,1272.0 2050.0,1333.0 2010.0,1340.0" fill="#2F70BF" stroke="#fff" stroke-width="4" stroke-linejoin="round"/>
<path class="w" d="M2022.5,1340.0 C2027.1,1330.4 2039.6,1297.5 2050.0,1282.5 C2060.4,1267.5 2072.9,1257.9 2085.0,1250.0 C2097.1,1242.1 2109.8,1235.4 2122.5,1235.0 C2135.2,1234.6 2154.8,1245.4 2161.2,1247.5" stroke-width="4.72"/>
<ellipse cx="2141.2" cy="1220.0" rx="9" ry="14" transform="rotate(30 2141.2 1220.0)" fill="#2F70BF" stroke="#fff" stroke-width="4.13"/>
<ellipse cx="2026.2" cy="1283.8" rx="9" ry="14" transform="rotate(30 2026.2 1283.8)" fill="#2F70BF" stroke="#fff" stroke-width="4.13"/>
<path class="b" d="M2050.0,1332.5 L2060.8,1325.3 Q2065.0,1322.5 2069.4,1320.1 L2340.0,1175.0" stroke-width="12.80"/>
<path class="k" d="M2050.0,1332.5 L2060.8,1325.3 Q2065.0,1322.5 2069.4,1320.1 L2340.0,1175.0" stroke-width="2.25"/>
<path class="w" d="M1930.0,1310.0 L2028.4,1342.8 Q2035.0,1345.0 2041.9,1345.9 L2049.5,1346.8 Q2055.0,1347.5 2060.0,1345.0 L2065.0,1342.5" stroke-width="5.90"/>
<g transform="translate(1992.0,1131.0) rotate(29.7)"><rect x="-24" y="-30" width="24" height="60" fill="#fff"/><ellipse cx="-24" cy="0" rx="16.5" ry="30" fill="#fff"/><ellipse cx="0" cy="0" rx="16.5" ry="30" fill="#fff"/><path d="M-28,-12 L-20,-24 L-6,-24 L-6,24 L-20,24 L-28,12 Z" fill="#C2A582"/><rect x="-32" y="-8" width="4" height="16" fill="#C2A582"/><ellipse cx="0" cy="0" rx="13.200000000000001" ry="24" fill="#C2A582" stroke="#fff" stroke-width="4"/><ellipse cx="1" cy="0" rx="8.976" ry="16.32" fill="#fff"/><ellipse cx="1.5" cy="0" rx="4.224" ry="7.68" fill="#C2A582"/></g>
<g transform="translate(1880.0,1200.0) rotate(29.7)"><rect x="-24" y="-30" width="24" height="60" fill="#fff"/><ellipse cx="-24" cy="0" rx="16.5" ry="30" fill="#fff"/><ellipse cx="0" cy="0" rx="16.5" ry="30" fill="#fff"/><path d="M-28,-12 L-20,-24 L-6,-24 L-6,24 L-20,24 L-28,12 Z" fill="#C2A582"/><rect x="-32" y="-8" width="4" height="16" fill="#C2A582"/><ellipse cx="0" cy="0" rx="13.200000000000001" ry="24" fill="#C2A582" stroke="#fff" stroke-width="4"/><ellipse cx="1" cy="0" rx="8.976" ry="16.32" fill="#fff"/><ellipse cx="1.5" cy="0" rx="4.224" ry="7.68" fill="#C2A582"/></g>
<line x1="1990.0" y1="1130.0" x2="2078.8" y2="1181.2" stroke="#FF0000" stroke-width="5" stroke-linecap="round"/>
<line x1="1875.0" y1="1195.0" x2="1963.8" y2="1246.2" stroke="#FF0000" stroke-width="5" stroke-linecap="round"/>
<line x1="2133.8" y1="1212.5" x2="2195.0" y2="1248.8" stroke="#FF0000" stroke-width="5" stroke-linecap="round"/>
<line x1="2020.0" y1="1278.8" x2="2081.2" y2="1313.8" stroke="#FF0000" stroke-width="5" stroke-linecap="round"/>
<line x1="2253.8" y1="1282.5" x2="2308.8" y2="1313.8" stroke="#FF0000" stroke-width="5" stroke-linecap="round"/>
<line x1="2140.0" y1="1347.5" x2="2195.0" y2="1380.0" stroke="#FF0000" stroke-width="5" stroke-linecap="round"/>
<line x1="2140.0" y1="1480.0" x2="2195.0" y2="1511.2" stroke="#FF0000" stroke-width="5" stroke-linecap="round"/>
<g transform="translate(2432.5,1385.0) rotate(30.79)"><rect x="-144.05944953386432" y="-16.5" width="122.05944953386432" height="33.0" fill="#fff"/><ellipse cx="-144.05944953386432" cy="0" rx="9.075000000000001" ry="16.5" fill="#fff"/><rect x="-22" y="-29" width="22" height="58" fill="#fff"/><ellipse cx="-22" cy="0" rx="15.950000000000001" ry="29" fill="#fff"/><ellipse cx="0" cy="0" rx="15.950000000000001" ry="29" fill="#fff"/><rect x="-144.05944953386432" y="-10.5" width="122.05944953386432" height="21.0" fill="#C07C2E"/><ellipse cx="-144.05944953386432" cy="0" rx="5.775" ry="10.5" fill="#C07C2E"/><rect x="-22" y="-23" width="22" height="46" fill="#C07C2E"/><ellipse cx="-22" cy="0" rx="12.65" ry="23" fill="#C07C2E"/><ellipse cx="0" cy="0" rx="12.65" ry="23" fill="#fff"/><ellipse cx="1.5" cy="0" rx="10.7525" ry="19.55" fill="#C07C2E"/><polygon points="-4,-11 4,-13 7,-2 4,11 -4,13 -7,2" transform="scale(0.9)" fill="#fff"/><rect x="-3" y="-3" width="6" height="6" fill="#C07C2E" transform="rotate(-30)"/></g>
<g transform="translate(2432.5,1517.5) rotate(30.79)"><rect x="-144.05944953386432" y="-16.5" width="122.05944953386432" height="33.0" fill="#fff"/><ellipse cx="-144.05944953386432" cy="0" rx="9.075000000000001" ry="16.5" fill="#fff"/><rect x="-22" y="-29" width="22" height="58" fill="#fff"/><ellipse cx="-22" cy="0" rx="15.950000000000001" ry="29" fill="#fff"/><ellipse cx="0" cy="0" rx="15.950000000000001" ry="29" fill="#fff"/><rect x="-144.05944953386432" y="-10.5" width="122.05944953386432" height="21.0" fill="#C07C2E"/><ellipse cx="-144.05944953386432" cy="0" rx="5.775" ry="10.5" fill="#C07C2E"/><rect x="-22" y="-23" width="22" height="46" fill="#C07C2E"/><ellipse cx="-22" cy="0" rx="12.65" ry="23" fill="#C07C2E"/><ellipse cx="0" cy="0" rx="12.65" ry="23" fill="#fff"/><ellipse cx="1.5" cy="0" rx="10.7525" ry="19.55" fill="#C07C2E"/><polygon points="-4,-11 4,-13 7,-2 4,11 -4,13 -7,2" transform="scale(0.9)" fill="#fff"/><rect x="-3" y="-3" width="6" height="6" fill="#C07C2E" transform="rotate(-30)"/></g>
<g transform="translate(2320.0,1452.5) rotate(30.54)"><rect x="-145.134635769688" y="-16.5" width="123.134635769688" height="33.0" fill="#fff"/><ellipse cx="-145.134635769688" cy="0" rx="9.075000000000001" ry="16.5" fill="#fff"/><rect x="-22" y="-29" width="22" height="58" fill="#fff"/><ellipse cx="-22" cy="0" rx="15.950000000000001" ry="29" fill="#fff"/><ellipse cx="0" cy="0" rx="15.950000000000001" ry="29" fill="#fff"/><rect x="-145.134635769688" y="-10.5" width="123.134635769688" height="21.0" fill="#C07C2E"/><ellipse cx="-145.134635769688" cy="0" rx="5.775" ry="10.5" fill="#C07C2E"/><rect x="-22" y="-23" width="22" height="46" fill="#C07C2E"/><ellipse cx="-22" cy="0" rx="12.65" ry="23" fill="#C07C2E"/><ellipse cx="0" cy="0" rx="12.65" ry="23" fill="#fff"/><ellipse cx="1.5" cy="0" rx="10.7525" ry="19.55" fill="#C07C2E"/><polygon points="-4,-11 4,-13 7,-2 4,11 -4,13 -7,2" transform="scale(0.9)" fill="#fff"/><rect x="-3" y="-3" width="6" height="6" fill="#C07C2E" transform="rotate(-30)"/></g>
<g transform="translate(2320.0,1582.5) rotate(29.68)"><rect x="-143.88037565978203" y="-16.5" width="121.88037565978203" height="33.0" fill="#fff"/><ellipse cx="-143.88037565978203" cy="0" rx="9.075000000000001" ry="16.5" fill="#fff"/><rect x="-22" y="-29" width="22" height="58" fill="#fff"/><ellipse cx="-22" cy="0" rx="15.950000000000001" ry="29" fill="#fff"/><ellipse cx="0" cy="0" rx="15.950000000000001" ry="29" fill="#fff"/><rect x="-143.88037565978203" y="-10.5" width="121.88037565978203" height="21.0" fill="#C07C2E"/><ellipse cx="-143.88037565978203" cy="0" rx="5.775" ry="10.5" fill="#C07C2E"/><rect x="-22" y="-23" width="22" height="46" fill="#C07C2E"/><ellipse cx="-22" cy="0" rx="12.65" ry="23" fill="#C07C2E"/><ellipse cx="0" cy="0" rx="12.65" ry="23" fill="#fff"/><ellipse cx="1.5" cy="0" rx="10.7525" ry="19.55" fill="#C07C2E"/><polygon points="-4,-11 4,-13 7,-2 4,11 -4,13 -7,2" transform="scale(0.9)" fill="#fff"/><rect x="-3" y="-3" width="6" height="6" fill="#C07C2E" transform="rotate(-30)"/></g>
<!--/DRAWING-->
</svg></body></html>
